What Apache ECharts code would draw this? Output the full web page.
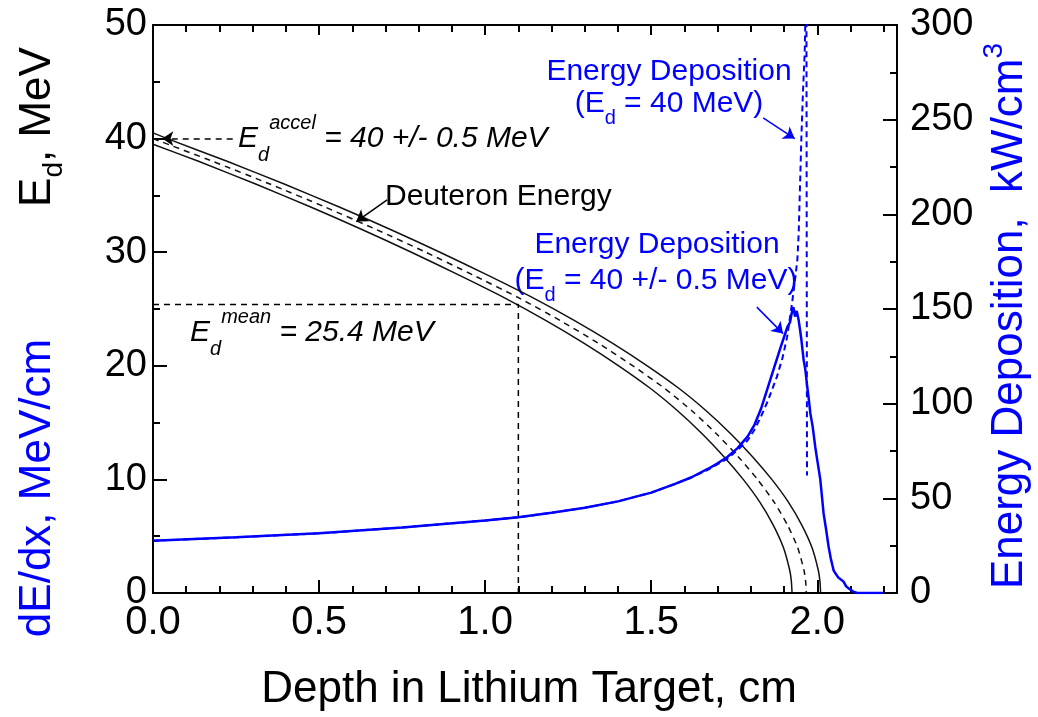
<!DOCTYPE html>
<html><head><meta charset="utf-8">
<script src="https://cdn.jsdelivr.net/npm/echarts@6/dist/echarts.min.js"></script>
<style>html,body{margin:0;padding:0;background:#fff}#c{width:1038px;height:717px}</style>
</head><body><div id="c"></div>
<script>
const FONT = "'Liberation Sans', Arial, Helvetica, sans-serif";
const BLUE = '#0000ff';

// Deuteron energy (MeV) vs depth (cm): central (dashed), +0.5 MeV and -0.5 MeV (solid)
const depthMid   = [0, 0.180, 0.352, 0.516, 0.672, 0.821, 0.963, 1.100, 1.225, 1.340, 1.445, 1.541, 1.624, 1.697, 1.762, 1.820, 1.870, 1.910, 1.941, 1.960, 1.965, 1.967];
const energyMid  = [40, 38, 36, 34, 32, 30, 28, 26, 24, 22, 20, 18, 16, 14, 12, 10, 8, 6, 4, 2, 1, 0];
const depthHigh  = [0, 0.043, 0.223, 0.395, 0.559, 0.715, 0.864, 1.006, 1.143, 1.268, 1.383, 1.488, 1.584, 1.667, 1.740, 1.805, 1.863, 1.913, 1.953, 1.984, 2.003, 2.008, 2.010];
const energyHigh = [40.5, 40, 38, 36, 34, 32, 30, 28, 26, 24, 22, 20, 18, 16, 14, 12, 10, 8, 6, 4, 2, 1, 0];
const depthLow   = [0, 0.137, 0.309, 0.473, 0.629, 0.778, 0.920, 1.057, 1.182, 1.297, 1.402, 1.498, 1.581, 1.654, 1.719, 1.777, 1.827, 1.867, 1.898, 1.917, 1.922, 1.924];
const energyLow  = [39.5, 38, 36, 34, 32, 30, 28, 26, 24, 22, 20, 18, 16, 14, 12, 10, 8, 6, 4, 2, 1, 0];

// Mean energy guide lines
const meanDepth  = [0, 1.1, 1.1];
const meanEnergy = [25.4, 25.4, 0];

// Energy deposition (kW/cm^3), Ed = 40 +/- 0.5 MeV (solid)
const depDepth  = [0, 0.25, 0.5, 0.75, 1.0, 1.1, 1.2, 1.3, 1.4, 1.5, 1.57, 1.62, 1.67, 1.70, 1.73, 1.76, 1.79, 1.81, 1.83, 1.85, 1.87, 1.89, 1.91, 1.918, 1.922, 1.928, 1.933, 1.938, 1.944, 1.952, 1.959, 1.964, 1.969, 1.974, 1.979, 1.986, 1.994, 2.001, 2.009, 2.019, 2.027, 2.034, 2.041, 2.049, 2.056, 2.064, 2.072, 2.079, 2.087, 2.094, 2.102, 2.109, 2.12, 2.2];
const depSpread = [27.6, 29.4, 31.5, 34.6, 38.3, 40.0, 42.4, 45.0, 48.4, 53, 57.5, 61, 65.5, 68.5, 72, 76.5, 82.6, 88.5, 97, 108, 119, 130, 140.5, 143, 147, 151, 146, 149, 144, 134, 123, 118, 110, 103, 95, 88, 77, 69, 60, 42, 33, 24.5, 18, 12, 10, 8, 7, 6, 3.5, 2.5, 1.5, 0.7, 0, 0];

// Energy deposition (kW/cm^3), Ed = 40 MeV (dashed)
const dep40Depth = [0, 0.25, 0.5, 0.75, 1.0, 1.1, 1.2, 1.3, 1.4, 1.5, 1.57, 1.62, 1.67, 1.70, 1.73, 1.76, 1.79, 1.81, 1.83, 1.85, 1.878, 1.895, 1.909, 1.924, 1.934, 1.940, 1.944, 1.948, 1.952, 1.957, 1.962, 1.965, 1.967, 1.969];
const dep40      = [27.6, 29.4, 31.5, 34.6, 38.3, 40.0, 42.4, 45.0, 48.4, 53, 57.5, 61, 65, 68, 71, 75.5, 80.5, 86, 93, 101, 114, 124, 135, 153, 167, 176, 190, 215, 240, 265, 285, 310, 360, 62];

// Tick labels
const xTickLabels     = ['0.0', '0.5', '1.0', '1.5', '2.0'];
const leftTickLabels  = ['0', '10', '20', '30', '40', '50'];
const rightTickLabels = ['0', '50', '100', '150', '200', '250', '300'];

// Annotation arrows (data coordinates)
const accelArrow = [[0.24, 40], [0.028, 40]];
const deutArrow  = [[0.705, 34.6], [0.612, 32.7]];
const topArrow   = [[1.837, 251], [1.932, 240]];
const midArrow   = [[1.818, 151], [1.897, 137]];

const zip = (a, b) => a.map((v, i) => [v, b[i]]);

const chart = echarts.init(document.getElementById('c'), null, { renderer: 'canvas' });

const axisLineStyle = { color: '#000', width: 2 };
function xAxisDef(pos, interval, tickLen, showLabel, showLine) {
  return {
    type: 'value', position: pos, min: 0, max: 2.24, interval: interval,
    axisLine: { show: showLine, onZero: false, lineStyle: axisLineStyle },
    axisTick: { show: true, inside: true, length: tickLen, lineStyle: { color: '#000', width: 2 } },
    axisLabel: {
      show: showLabel, showMaxLabel: false, fontSize: 40, fontFamily: FONT, color: '#000', margin: 10,
      formatter: v => { const i = Math.round(v / 0.5); return Math.abs(v - i * 0.5) < 1e-6 ? (xTickLabels[i] || '') : ''; }
    },
    splitLine: { show: false }
  };
}

function richTok(size, color, italic, lh, va) {
  const t = { fontSize: size, fontFamily: FONT, fontStyle: italic ? 'italic' : 'normal', fill: color, lineHeight: lh };
  if (va) t.verticalAlign = va;
  return t;
}
function textEl(x, y, text, rich, align, rot) {
  return {
    type: 'text', x: x, y: y, rotation: rot || 0, silent: true,
    style: { text: text, rich: rich, align: align, textAlign: align, verticalAlign: 'middle', textVerticalAlign: 'middle',
             fill: '#000', fontFamily: FONT, fontSize: 30 }
  };
}

const italicRich = {
  E: richTok(30, '#000', true, 52),
  s: richTok(20, '#000', true, 20, 'bottom'),
  p: richTok(20, '#000', true, 28, 'top'),
  m: richTok(30, '#000', true, 52)
};
const blueRich = {
  m: richTok(30, BLUE, false, 48),
  s: richTok(20, BLUE, false, 20, 'bottom')
};
const blackRich = { m: richTok(30, '#000', false, 36) };

const option = {
  animation: false,
  backgroundColor: '#fff',
  grid: { left: 153, right: 141, top: 25, bottom: 124, containLabel: false, outerBoundsMode: 'none' },
  xAxis: [
    xAxisDef('bottom', 0.5, 13, true, true),
    xAxisDef('bottom', 0.1, 7, false, false),
    xAxisDef('top', 0.5, 10, false, true),
    xAxisDef('top', 0.1, 7, false, false)
  ],
  yAxis: [
    {
      type: 'value', position: 'left', min: 0, max: 50, interval: 10,
      axisLine: { show: true, onZero: false, lineStyle: axisLineStyle },
      axisTick: { inside: true, length: 14, lineStyle: { color: '#000', width: 2 } },
      minorTick: { show: true, splitNumber: 2, length: 7, lineStyle: { color: '#000', width: 2 } },
      axisLabel: { fontSize: 38, fontFamily: FONT, color: '#000', margin: 6,
        formatter: v => leftTickLabels[Math.round(v / 10)] || '' },
      splitLine: { show: false }
    },
    {
      type: 'value', position: 'right', min: 0, max: 300, interval: 50,
      axisLine: { show: true, onZero: false, lineStyle: axisLineStyle },
      axisTick: { inside: true, length: 14, lineStyle: { color: '#000', width: 2 } },
      minorTick: { show: true, splitNumber: 2, length: 7, lineStyle: { color: '#000', width: 2 } },
      axisLabel: { fontSize: 38, fontFamily: FONT, color: '#000', margin: 13,
        formatter: v => rightTickLabels[Math.round(v / 50)] || '' },
      splitLine: { show: false }
    }
  ],
  series: [
    { name: 'E high', type: 'line', xAxisIndex: 0, yAxisIndex: 0, data: zip(depthHigh, energyHigh), showSymbol: false, symbol: 'none', smooth: 0.2,
      lineStyle: { color: '#111', width: 1.5 }, silent: true },
    { name: 'E mid', type: 'line', xAxisIndex: 0, yAxisIndex: 0, data: zip(depthMid, energyMid), showSymbol: false, symbol: 'none', smooth: 0.2,
      lineStyle: { color: '#111', width: 1.5, type: [6, 5] }, silent: true },
    { name: 'E low', type: 'line', xAxisIndex: 0, yAxisIndex: 0, data: zip(depthLow, energyLow), showSymbol: false, symbol: 'none', smooth: 0.2,
      lineStyle: { color: '#111', width: 1.5 }, silent: true },
    { name: 'mean', type: 'line', xAxisIndex: 0, yAxisIndex: 0, data: zip(meanDepth, meanEnergy), showSymbol: false, symbol: 'none',
      lineStyle: { color: '#000', width: 1.5, type: [6, 5] }, silent: true,
      markLine: {
        silent: true, symbol: ['none', 'arrow'], symbolSize: 11, label: { show: false },
        data: [
          [{ coord: accelArrow[0], lineStyle: { color: '#000', width: 1.5, type: [6, 5] } }, { coord: accelArrow[1] }],
          [{ coord: deutArrow[0], lineStyle: { color: '#000', width: 1.5, type: 'solid' } }, { coord: deutArrow[1] }]
        ]
      } },
    { name: 'dep 40', type: 'line', xAxisIndex: 0, yAxisIndex: 1, data: zip(dep40Depth, dep40), showSymbol: false, symbol: 'none', clip: true,
      lineStyle: { color: BLUE, width: 2, type: [6, 4] }, silent: true },
    { name: 'dep spread', type: 'line', xAxisIndex: 0, yAxisIndex: 1, data: zip(depDepth, depSpread), showSymbol: false, symbol: 'none', clip: true,
      lineStyle: { color: BLUE, width: 2.5 }, silent: true,
      markLine: {
        silent: true, symbol: ['none', 'arrow'], symbolSize: 11, label: { show: false },
        lineStyle: { color: BLUE, width: 1.5, type: 'solid' },
        data: [
          [{ coord: topArrow[0] }, { coord: topArrow[1] }],
          [{ coord: midArrow[0] }, { coord: midArrow[1] }]
        ]
      } }
  ],
  graphic: [
    textEl(38, 127, '{m|E}{s|d}{m|, MeV}', { m: richTok(44, '#000', false, 60), s: richTok(28, '#000', false, 28, 'bottom') }, 'center', Math.PI / 2),
    textEl(38, 488, '{m|dE/dx, MeV/cm}', { m: richTok(44, BLUE, false, 60) }, 'center', Math.PI / 2),
    textEl(1010, 316, '{m|Energy Deposition,  kW/cm}{p|3}', { m: richTok(44, BLUE, false, 60), p: richTok(28, BLUE, false, 28, 'top') }, 'center', Math.PI / 2),
    textEl(529, 690, '{m|Depth in Lithium Target, cm}', { m: richTok(44, '#000', false, 52) }, 'center'),
    textEl(238, 139, '{E|E}{s|d}{p|accel}{m| = 40 +/- 0.5 MeV}', italicRich, 'left'),
    textEl(190, 333, '{E|E}{s|d}{p|mean}{m| = 25.4 MeV}', italicRich, 'left'),
    textEl(385, 197, '{m|Deuteron Energy}', blackRich, 'left'),
    textEl(669, 72, '{m|Energy Deposition}', blueRich, 'center'),
    textEl(669, 104, '{m|(E}{s|d}{m| = 40 MeV)}', blueRich, 'center'),
    textEl(657, 245, '{m|Energy Deposition}', blueRich, 'center'),
    textEl(656, 281, '{m|(E}{s|d}{m| = 40 +/- 0.5 MeV)}', blueRich, 'center')
  ]
};
chart.setOption(option);
</script>
</body></html>
